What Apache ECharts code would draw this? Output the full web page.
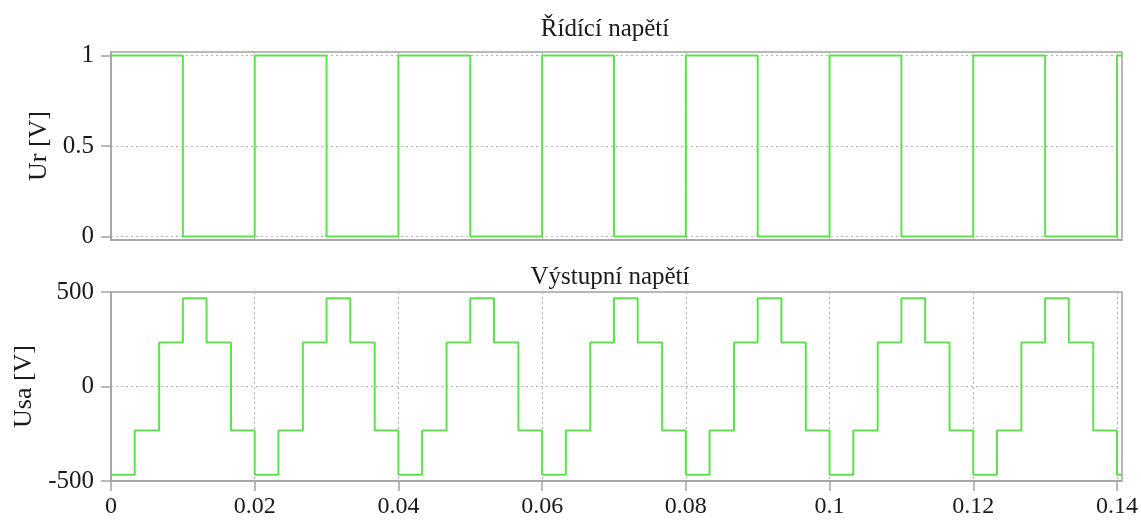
<!DOCTYPE html>
<html>
<head>
<meta charset="utf-8">
<script src="https://cdn.jsdelivr.net/npm/echarts@6/dist/echarts.min.js"></script>
<style>
  html, body { margin: 0; padding: 0; background: #ffffff; }
  #chart { width: 1141px; height: 520px; }
</style>
</head>
<body>
<div id="chart"></div>
<script>
// Control signal: switching instants [s] and the level held from each instant on
const ctrlTime  = [0, 0.01, 0.02, 0.03, 0.04, 0.05, 0.06, 0.07, 0.08, 0.09, 0.10, 0.11, 0.12, 0.13, 0.14, 0.1407];
const ctrlLevel = [1, 0, 1, 0, 1, 0, 1, 0, 1, 0, 1, 0, 1, 0, 1, 1];

// Output phase voltage (six-step): switching instants [s] and held level [V]
const outTime = [
  0,    0.0033, 0.0067, 0.01, 0.0133, 0.0167,
  0.02, 0.0233, 0.0267, 0.03, 0.0333, 0.0367,
  0.04, 0.0433, 0.0467, 0.05, 0.0533, 0.0567,
  0.06, 0.0633, 0.0667, 0.07, 0.0733, 0.0767,
  0.08, 0.0833, 0.0867, 0.09, 0.0933, 0.0967,
  0.10, 0.1033, 0.1067, 0.11, 0.1133, 0.1167,
  0.12, 0.1233, 0.1267, 0.13, 0.1333, 0.1367,
  0.14, 0.1407
];
const outLevel = [
  -466.7, -233.3, 233.3, 466.7, 233.3, -233.3,
  -466.7, -233.3, 233.3, 466.7, 233.3, -233.3,
  -466.7, -233.3, 233.3, 466.7, 233.3, -233.3,
  -466.7, -233.3, 233.3, 466.7, 233.3, -233.3,
  -466.7, -233.3, 233.3, 466.7, 233.3, -233.3,
  -466.7, -233.3, 233.3, 466.7, 233.3, -233.3,
  -466.7, -233.3, 233.3, 466.7, 233.3, -233.3,
  -466.7, -466.7
];

const titles = ['Řídící napětí', 'Výstupní napětí'];
const yNames = ['Ur [V]', 'Usa [V]'];
const ctrlTicks = [0, 0.5, 1];

const FONT = '"Liberation Serif", "Times New Roman", serif';
const TEXT = '#1a1a1a';
const FRAME = '#a3a3a3';
const GRIDLINE = '#b5b5b5';
const TRACE = '#5fe04f';

const pairs = (xs, ys) => xs.map((x, i) => [x, ys[i]]);

const frameAxisLine = { show: true, onZero: false, lineStyle: { color: FRAME, width: 1.5 } };
const dotted = { show: true, lineStyle: { color: GRIDLINE, type: [2, 3], width: 1 } };
const tickStyle = { color: FRAME, width: 1.5 };

const chart = echarts.init(document.getElementById('chart'), null, { renderer: 'canvas' });

chart.setOption({
  animation: false,
  backgroundColor: '#ffffff',
  title: [
    { text: titles[0], left: 600, top: 12, textAlign: 'center',
      textStyle: { fontFamily: FONT, fontSize: 25, fontWeight: 'normal', color: TEXT } },
    { text: titles[1], left: 605, top: 260, textAlign: 'center',
      textStyle: { fontFamily: FONT, fontSize: 25, fontWeight: 'normal', color: TEXT } }
  ],
  grid: [
    { left: 111, right: 19, top: 52, height: 188, show: true, borderColor: FRAME, borderWidth: 1.5 },
    { left: 111, right: 19, top: 292, height: 189, show: true, borderColor: FRAME, borderWidth: 1.5 }
  ],
  xAxis: [
    {
      type: 'value', gridIndex: 0, min: 0, max: 0.1407, interval: 0.02,
      axisLine: frameAxisLine, axisTick: { show: false }, axisLabel: { show: false },
      splitLine: dotted
    },
    {
      type: 'value', gridIndex: 1, min: 0, max: 0.1407, interval: 0.02,
      axisLine: frameAxisLine,
      axisTick: { show: true, length: 10, lineStyle: tickStyle },
      axisLabel: { fontFamily: FONT, fontSize: 24, color: TEXT, margin: 14, showMaxLabel: false },
      splitLine: dotted
    }
  ],
  yAxis: [
    {
      type: 'value', gridIndex: 0, min: -0.02, max: 1.02,
      name: yNames[0], nameLocation: 'middle', nameGap: 56, nameRotate: 90,
      nameTextStyle: { fontFamily: FONT, fontSize: 26, color: TEXT },
      axisLine: frameAxisLine,
      axisTick: { show: true, length: 10, customValues: ctrlTicks, lineStyle: tickStyle },
      axisLabel: { fontFamily: FONT, fontSize: 25, color: TEXT, margin: 17, customValues: ctrlTicks },
      splitLine: dotted
    },
    {
      type: 'value', gridIndex: 1, min: -500, max: 500, interval: 500,
      name: yNames[1], nameLocation: 'middle', nameGap: 74, nameRotate: 90,
      nameTextStyle: { fontFamily: FONT, fontSize: 26, color: TEXT },
      axisLine: frameAxisLine,
      axisTick: { show: true, length: 10, lineStyle: tickStyle },
      axisLabel: { fontFamily: FONT, fontSize: 25, color: TEXT, margin: 17 },
      splitLine: dotted
    }
  ],
  series: [
    {
      type: 'line', xAxisIndex: 0, yAxisIndex: 0, step: 'end',
      data: pairs(ctrlTime, ctrlLevel), showSymbol: false, clip: true,
      lineStyle: { color: TRACE, width: 2 }
    },
    {
      type: 'line', xAxisIndex: 1, yAxisIndex: 1, step: 'end',
      data: pairs(outTime, outLevel), showSymbol: false, clip: true,
      lineStyle: { color: TRACE, width: 2 }
    }
  ]
});
</script>
</body>
</html>
